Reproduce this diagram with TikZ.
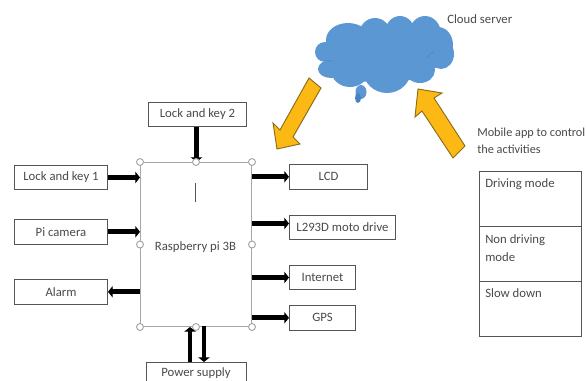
\documentclass[tikz,border=0pt]{standalone}
\usepackage{fontspec}
\setmainfont{Carlito}
\usetikzlibrary{arrows.meta}
\definecolor{txt}{HTML}{4A4A4A}
\definecolor{edge}{HTML}{555555}
\definecolor{handle}{HTML}{A6A6A6}
\definecolor{cloudblue}{HTML}{5B97D3}
\definecolor{cloudline}{HTML}{4A84BE}
\definecolor{gold}{HTML}{FDB913}
\definecolor{goldline}{HTML}{8A6D1A}
\tikzset{
  x=0.75pt,y=-0.75pt,
  every node/.style={font=\fontsize{9.55pt}{13pt}\selectfont,text=txt},
  blockbox/.style={draw=edge,line width=0.75pt,fill=white,inner sep=0pt,anchor=north west},
  mainbox/.style={draw=handle,line width=0.75pt,fill=white,inner sep=0pt,anchor=north west},
  grip/.style={circle,draw=handle,line width=0.75pt,fill=white,minimum size=5.2pt,inner sep=0pt},
  flow/.style={line width=3.7pt,-{Triangle[width=8.5pt,length=3.5pt]},black},
  label/.style={anchor=west,inner sep=0pt,align=left},
  bigarrow/.style={fill=gold,draw=goldline,line width=0.7pt,line join=miter},
  puff/.style={fill=cloudblue,draw=none},
  puffline/.style={draw=cloudline,line width=0.4pt},
}
\begin{document}
\begin{tikzpicture}
\path[use as bounding box,fill=white] (0,0) rectangle (586,381);
% cloud
\fill[puff] (325,52) ellipse (10 and 10);
\fill[puff] (348,40) ellipse (22 and 17);
\fill[puff] (375,35) ellipse (16 and 17);
\fill[puff] (400,33) ellipse (15 and 17);
\fill[puff] (425,34) ellipse (16 and 18);
\fill[puff] (438,45) ellipse (15 and 18);
\fill[puff] (441,54) ellipse (13 and 15);
\fill[puff] (420,70) ellipse (15 and 13);
\fill[puff] (387,70) ellipse (24 and 23);
\fill[puff] (350,70) ellipse (19 and 17);
\fill[puff] (331,69) ellipse (13 and 9);
\fill[puff] (330,45) -- (440,30) -- (445,62) -- (415,80) -- (350,82) -- (328,72) -- cycle;
\draw[puffline] (427,58) arc[start angle=200,end angle=260,radius=9];
\draw[puffline] (326,61) arc[start angle=250,end angle=300,radius=8];
\fill[puff] (361,92) ellipse (5.5 and 7);
\fill[cloudline] (358,98) ellipse (3 and 5);
% cloud arrows
\draw[bigarrow] (309,78) -- (321,88) -- (293,137) -- (300,144) -- (277,149) -- (273,123) -- (280,130) -- cycle;
\draw[bigarrow] (465,146) -- (453,158) -- (422,111) -- (415,117) -- (418,89) -- (442,93) -- (434,98) -- cycle;
% blocks
\node[mainbox,minimum width=83.25pt,minimum height=123pt] (main) at (140,162) {};
\node (rpi) at (195.5,247) {Raspberry pi 3B};
\coordinate (caretA) at (195.5,183);
\coordinate (caretB) at (195.5,202);
\draw[edge,line width=0.6pt] (caretA) -- (caretB);
\node[blockbox,minimum width=73.5pt,minimum height=18pt] (lk2) at (148,102) {Lock and key 2};
\node[blockbox,minimum width=69.75pt,minimum height=18pt] (lk1) at (14,165) {Lock and key 1};
\node[blockbox,minimum width=69.75pt,minimum height=18.5pt] (cam) at (14,219) {Pi camera};
\node[blockbox,minimum width=69.75pt,minimum height=18.5pt] (alarm) at (14,279) {Alarm};
\node[blockbox,minimum width=75pt,minimum height=18pt] (psu) at (146,362) {};
\node (psutext) at (196,373.5) {Power supply};
\node[blockbox,minimum width=58.5pt,minimum height=18.5pt] (lcd) at (289,164) {LCD};
\node[blockbox,minimum width=79.5pt,minimum height=18pt] (drv) at (289,215) {L293D moto drive};
\node[blockbox,minimum width=49.5pt,minimum height=18pt] (net) at (289,265) {Internet};
\node[blockbox,minimum width=49.5pt,minimum height=18.5pt] (gps) at (289,305) {GPS};
% table
\node[blockbox,minimum width=76.5pt,minimum height=41.25pt] (c1) at (479,171) {};
\node[blockbox,minimum width=76.5pt,minimum height=41.25pt] (c2) at (479,226) {};
\node[blockbox,minimum width=76.5pt,minimum height=41.25pt] (c3) at (479,281) {};
\node[label] (t1) at (485,184) {Driving mode};
\node[label] (t2) at (485,248) {Non driving\\mode};
\node[label] (t3) at (485,293) {Slow down};
\node[label] (cs) at (447,19) {Cloud server};
\node[label,font=\fontsize{9.2pt}{13pt}\selectfont] (ma) at (477,141) {Mobile app to control\\the activities};
% connectors
\draw[flow] (lk2.south) ++(-1,0) coordinate (a2) -- (a2 |- main.north);
\draw[flow] (lk1.east) -- (lk1.east -| main.west);
\draw[flow] (cam.east) -- (cam.east -| main.west);
\draw[flow] (main.west |- alarm.east) -- (alarm.east);
\coordinate (pu) at (190,362);
\coordinate (pd) at (204,326);
% selection handles
\foreach \n/\a in {g1/north west,g2/north,g3/north east,g4/west,g5/east,g6/south west,g7/south,g8/south east}
  \node[grip] (\n) at (main.\a) {};
\draw[flow] (pu) -- (pu |- main.south);
\draw[flow] (pd) -- (pd |- psu.north);
\draw[flow] (main.east |- lcd.west) -- (lcd.west);
\draw[flow] ([yshift=3pt]main.east |- drv.west) -- ([yshift=3pt]drv.west);
\draw[flow] (main.east |- net.west) -- (net.west);
\draw[flow] (main.east |- gps.west) -- (gps.west);
\end{tikzpicture}
\end{document}
